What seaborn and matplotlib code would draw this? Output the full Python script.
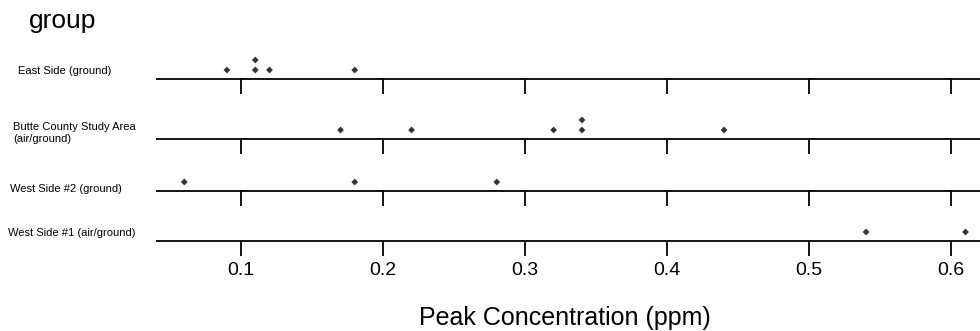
import matplotlib
matplotlib.use("Agg")
import matplotlib.pyplot as plt
import seaborn as sns
import pandas as pd

groups = ["East Side (ground)", "Butte County Study Area\n(air/ground)",
          "West Side #2 (ground)", "West Side #1 (air/ground)"]
east_side = [0.09, 0.11, 0.11, 0.12, 0.18]
butte = [0.17, 0.22, 0.32, 0.34, 0.34, 0.44]
west2 = [0.06, 0.18, 0.28]
west1 = [0.54, 0.61]
tick_values = [0.1, 0.2, 0.3, 0.4, 0.5, 0.6]
tick_labels = ["0.1", "0.2", "0.3", "0.4", "0.5", "0.6"]

series = [east_side, butte, west2, west1]
rows = []
for g, vals in zip(groups, series):
    for v in vals:
        rows.append({"group": g, "value": v})
df = pd.DataFrame(rows)
df["stack"] = df.groupby(["group", "value"]).cumcount()

sns.set_theme(style="white")
plt.rcParams["font.family"] = ["Liberation Sans", "DejaVu Sans"]

W, H = 980, 331
fig = plt.figure(figsize=(W / 100, H / 100), dpi=100)

line_y = [79, 139, 191, 241]   # pixel y of each axis line (from top)
label_cfg = [(18, 70.5), (13, 133), (10, 189), (8, 232.5)]
ax_h = 40
x0 = 157
xlim = (0.0408, 0.6202)

for i, g in enumerate(groups):
    bottom = (H - line_y[i]) / H
    ax = fig.add_axes([x0 / W, bottom, (W - x0) / W, ax_h / H])
    sub = df[df["group"] == g]
    sns.scatterplot(data=sub, x="value", y="stack", ax=ax, marker="D", s=12,
                    color="#333333", edgecolor="none", legend=False)
    ax.set_xlim(*xlim)
    ax.set_ylim(-0.9, 3.1)
    for s in ["top", "left", "right"]:
        ax.spines[s].set_visible(False)
    ax.spines["bottom"].set_linewidth(1.3)
    ax.spines["bottom"].set_color("black")
    ax.set_yticks([])
    ax.set_ylabel("")
    ax.set_xlabel("")
    ax.set_xticks(tick_values)
    ax.tick_params(axis="x", direction="out", length=11, width=1.3, color="black",
                   bottom=True, labelsize=14, pad=4, labelcolor="black")
    if i < len(groups) - 1:
        ax.set_xticklabels([])
    else:
        ax.set_xticklabels(tick_labels)
    ax.patch.set_alpha(0)
    lx, ly = label_cfg[i]
    fig.text(lx / W, 1 - ly / H, g, ha="left", va="center", fontsize=8,
             color="black", linespacing=1.2)

fig.text(29 / W, 1 - 28 / H, "group", ha="left", va="baseline", fontsize=19, color="black")
fig.text(565 / W, 1 - 325 / H, "Peak Concentration (ppm)", ha="center", va="baseline",
         fontsize=18, color="black")

fig.savefig("out.png", dpi=100)
